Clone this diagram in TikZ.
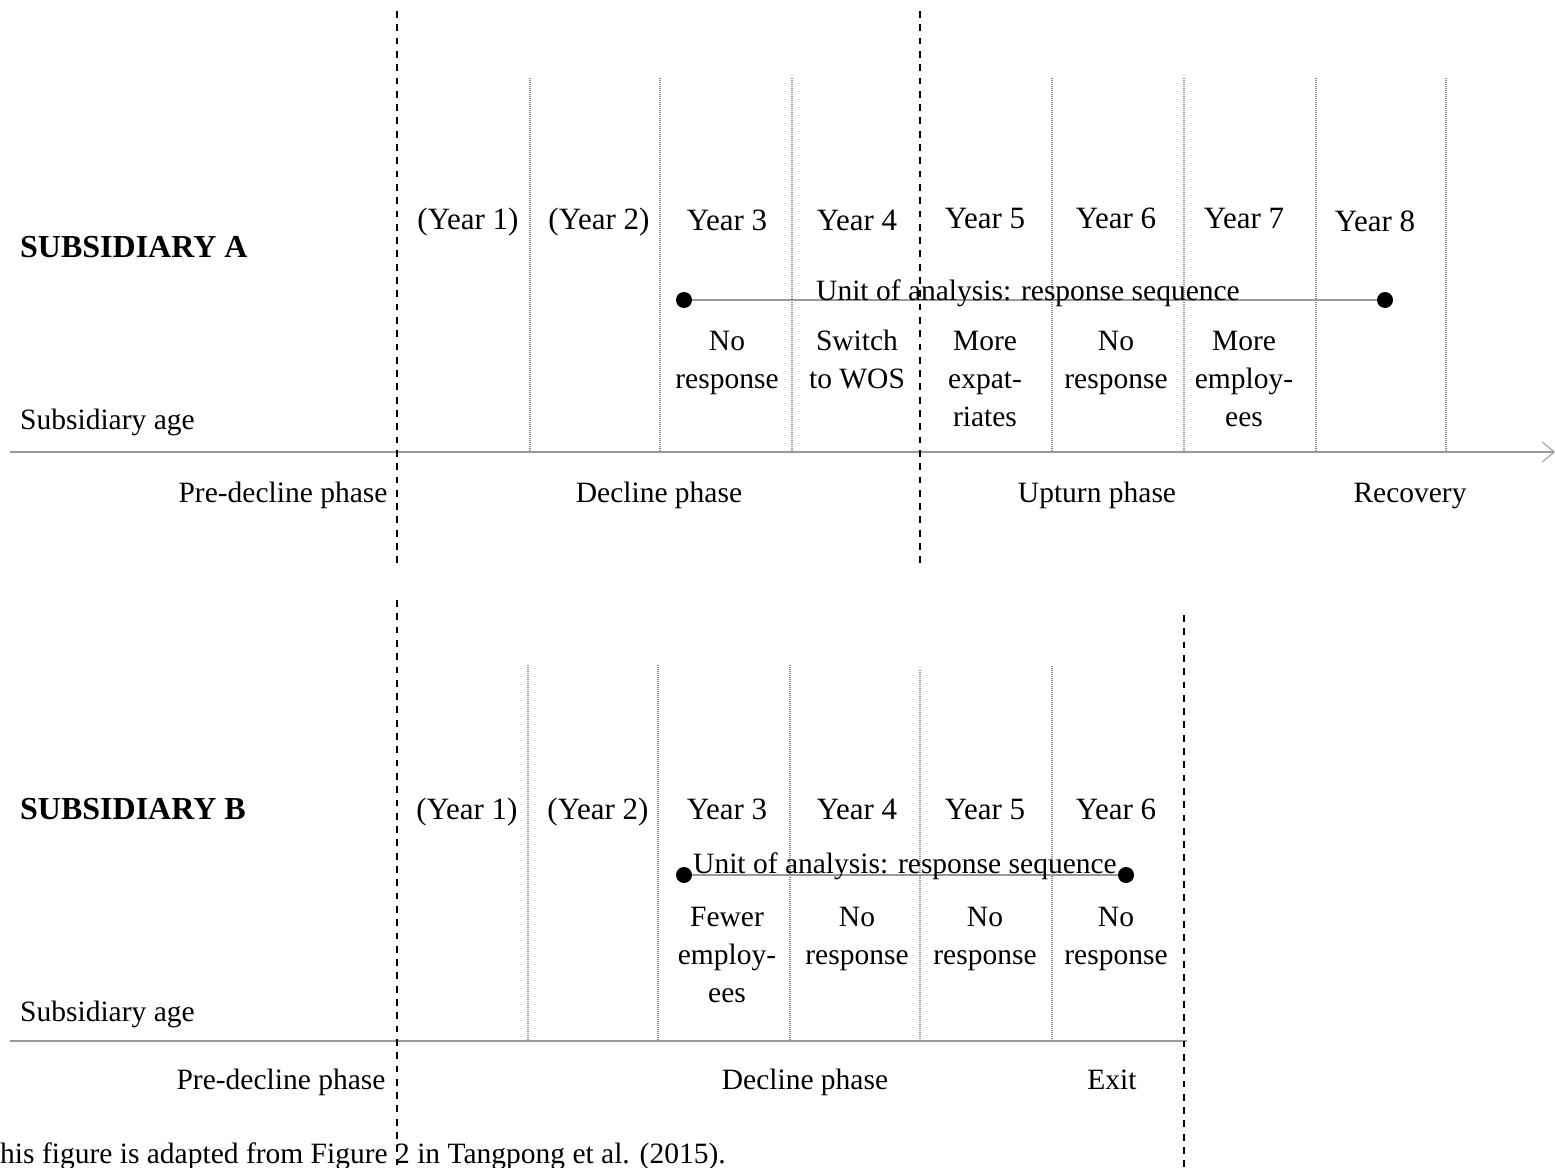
\documentclass[tikz,border=0pt]{standalone}
\usepackage{fontspec}
\setmainfont{Liberation Serif}
\usetikzlibrary{arrows.meta}
\newcommand\stk[1]{\begin{tabular}[t]{@{}c@{}}#1\end{tabular}}
\begin{document}
\begin{tikzpicture}[x=1pt,y=-1pt,
  every node/.style={font=\fontsize{29.5}{38}\selectfont, inner sep=0pt, anchor=base},
  yearlab/.style={font=\fontsize{31}{38}\selectfont},
  phasebar/.style={line width=2.5pt, dash pattern=on 6.8pt off 6.5pt},
  yeargrid/.style={black!45, line width=1.3pt, dash pattern=on 1pt off 1pt},
  axisline/.style={black!40, line width=1.6pt},
  unitline/.style={black!40, line width=1.6pt},
  enddot/.style={circle, fill=black, minimum size=16pt, inner sep=0pt, anchor=center},
  rowhead/.style={anchor=base west, font=\fontsize{32}{38}\selectfont\bfseries},
  leftlab/.style={anchor=base west}]
\useasboundingbox (0,0) rectangle (1555,1167);

% ---------------- Subsidiary A ----------------
\foreach \x in {530,660,792,1052,1184,1316,1446}
  \draw[yeargrid] (\x,78) -- (\x,452);
\draw[axisline, -{Straight Barb[length=12pt,width=20pt,line width=1pt]}] (10,452) -- (1555,452);
\draw[phasebar] (397,11) -- (397,566);
\draw[phasebar] (920,11) -- (920,566);

\node[rowhead] (subA) at (20,257) {SUBSIDIARY A};
\node[leftlab] (ageA) at (20,429) {Subsidiary age};

\node[yearlab] (ya1) at (468,229) {(Year 1)};
\node[yearlab] (ya2) at (599,229) {(Year 2)};
\node[yearlab] (ya3) at (727,230) {Year 3};
\node[yearlab] (ya4) at (857,230) {Year 4};
\node[yearlab] (ya5) at (985,228) {Year 5};
\node[yearlab] (ya6) at (1116,228) {Year 6};
\node[yearlab] (ya7) at (1244,228) {Year 7};
\node[yearlab] (ya8) at (1375,231) {Year 8};

\node[enddot] (ua1) at (684,300) {};
\node[enddot] (ua2) at (1385,300) {};
\draw[unitline] (ua1) -- (ua2);
\node (unitA) at (1028,300) {Unit of analysis: response sequence};

\node (ra3) at (727,350) {\stk{No\\response}};
\node (ra4) at (857,350) {\stk{Switch\\to WOS}};
\node (ra5) at (985,350) {\stk{More\\expat-\\riates}};
\node (ra6) at (1116,350) {\stk{No\\response}};
\node (ra7) at (1244,350) {\stk{More\\employ-\\ees}};

\node (pa1) at (283,502) {Pre-decline phase};
\node (pa2) at (659,502) {Decline phase};
\node (pa3) at (1097,502) {Upturn phase};
\node (pa4) at (1410,502) {Recovery};

% ---------------- Subsidiary B ----------------
\foreach \x/\t in {528/665,658/665,790/665,920/670,1052/666}
  \draw[yeargrid] (\x,\t) -- (\x,1041);
\draw[axisline] (10,1041) -- (1187,1041);
\draw[phasebar] (397,600) -- (397,1167);
\draw[phasebar] (1184,615) -- (1184,1167);

\node[rowhead] (subB) at (20,819) {SUBSIDIARY B};
\node[leftlab] (ageB) at (20,1021) {Subsidiary age};

\node[yearlab] (yb1) at (467,819) {(Year 1)};
\node[yearlab] (yb2) at (598,819) {(Year 2)};
\node[yearlab] (yb3) at (727,819) {Year 3};
\node[yearlab] (yb4) at (857,819) {Year 4};
\node[yearlab] (yb5) at (985,819) {Year 5};
\node[yearlab] (yb6) at (1116,819) {Year 6};

\node[enddot] (ub1) at (684,875) {};
\node[enddot] (ub2) at (1126,875) {};
\draw[unitline] (ub1) -- (ub2);
\node (unitB) at (905,873) {Unit of analysis: response sequence};

\node (rb3) at (727,926) {\stk{Fewer\\employ-\\ees}};
\node (rb4) at (857,926) {\stk{No\\response}};
\node (rb5) at (985,926) {\stk{No\\response}};
\node (rb6) at (1116,926) {\stk{No\\response}};

\node (pb1) at (281,1089) {Pre-decline phase};
\node (pb2) at (805,1089) {Decline phase};
\node (pb3) at (1112,1089) {Exit};

% ---------------- Source note ----------------
\node[anchor=base west] (note) at (-18,1163) {This figure is adapted from Figure 2 in Tangpong et al. (2015).};
\end{tikzpicture}
\end{document}
